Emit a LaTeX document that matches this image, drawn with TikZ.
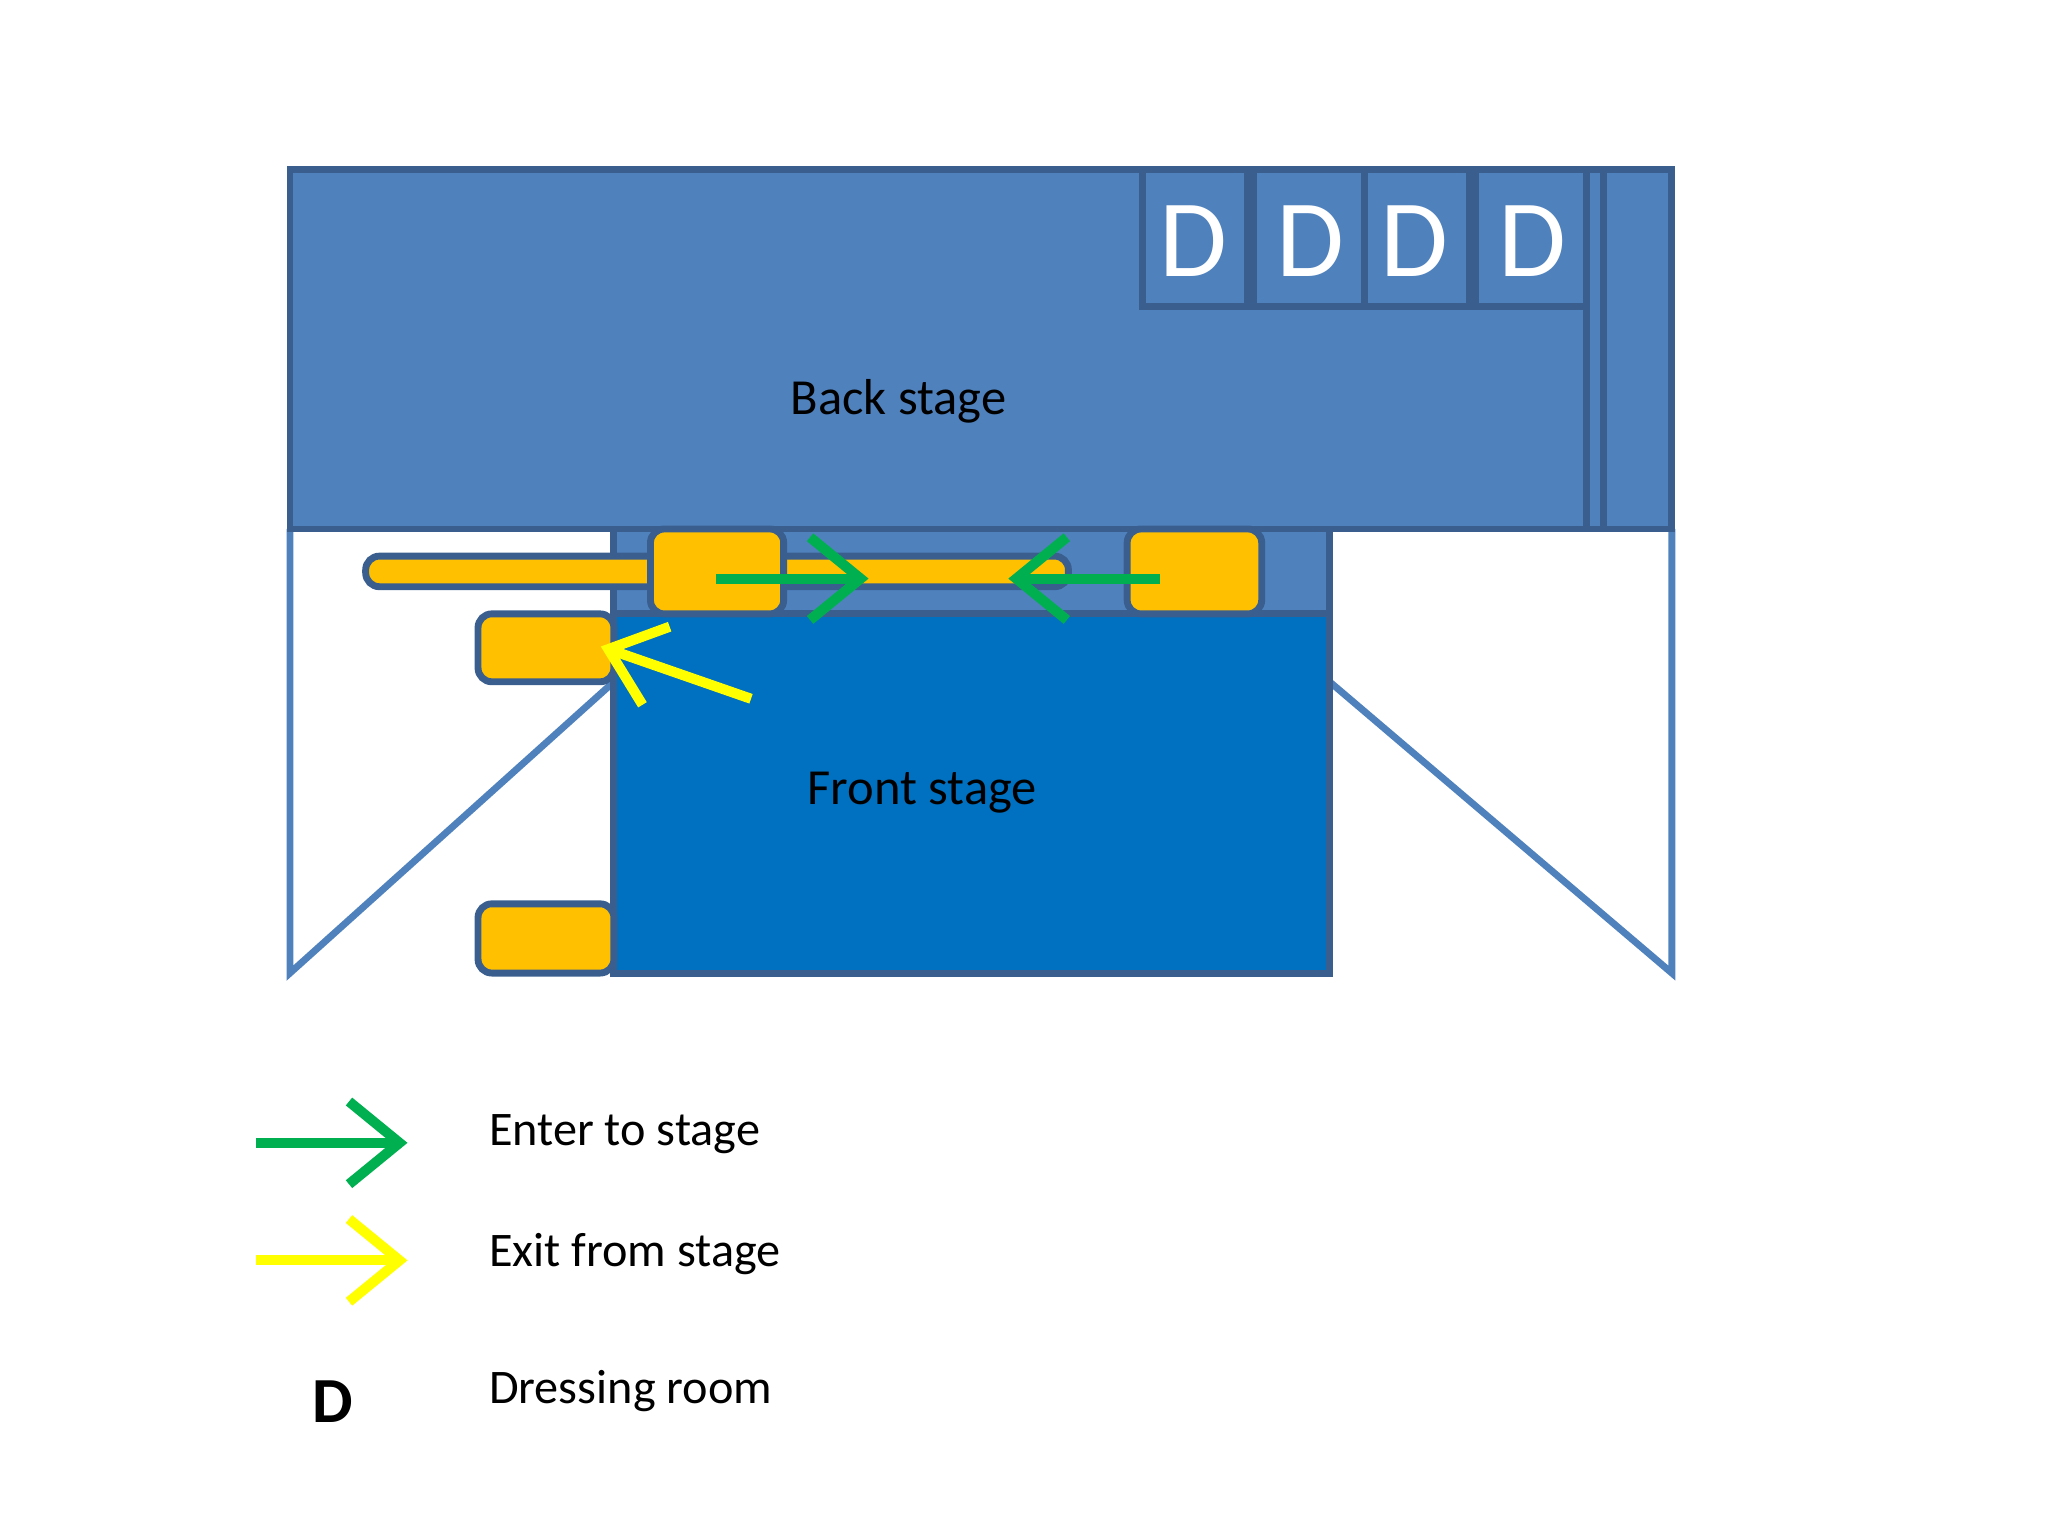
\documentclass[tikz,border=0pt]{standalone}
\usepackage{fontspec}
\setmainfont{Carlito}
\usetikzlibrary{arrows.meta}
\definecolor{bs}{HTML}{4F81BD}
\definecolor{bd}{HTML}{3A5F8F}
\definecolor{fs}{HTML}{0070C0}
\definecolor{org}{HTML}{FFC000}
\definecolor{grn}{HTML}{00B050}
\definecolor{yel}{HTML}{FFFF00}
\tikzset{
 room/.style={draw=bd,line width=1.5pt},
 orbox/.style={draw=bd,fill=org,line width=1.5pt,rounded corners=3pt},
 wing/.style={draw=bs,line width=1.5pt},
 arr/.style={line width=2.2pt,-{Straight Barb[length=11pt,width=18pt,line width=2.2pt]}},
 dlab/.style={text=white,font=\fontsize{24}{24}\selectfont},
 lbl/.style={font=\fontsize{10.5}{12}\selectfont,anchor=west}
}
\begin{document}
\begin{tikzpicture}[x=0.01cm,y=-0.01cm]
\useasboundingbox (0,0) rectangle (1568,1176);
% wings
\draw[wing] (222,405) -- (222,745) -- (470,522);
\draw[wing] (1280,405) -- (1280,745) -- (1018,522);
% back stage
\draw[room,fill=bs] (222,130) rectangle (1280,405);
\node (back) at (688,307) {\fontsize{11}{13}\selectfont Back stage};
\draw[room] (875,130) rectangle (955,235);
\draw[room] (960,130) rectangle (1045,235);
\draw[room] (1045,130) rectangle (1125,235);
\draw[room] (1130,130) rectangle (1215,235);
\draw[room] (1215,130) -- (1215,405);
\draw[room] (1228,130) -- (1228,405);
\node[dlab] (d1) at (914,185) {D};
\node[dlab] (d2) at (1003,185) {D};
\node[dlab] (d3) at (1083,185) {D};
\node[dlab] (d4) at (1173,185) {D};
% corridor and front stage
\draw[room,fill=bs] (470,405) rectangle (1018,470);
\draw[room,fill=fs] (470,470) rectangle (1018,745);
\node (front) at (706,607) {\fontsize{11}{13}\selectfont Front stage};
% exits
\node[orbox,minimum width=102\pgflinewidth] (o1) at (549,437.5) {};
\draw[orbox] (498,405) rectangle (600,470);
\draw[orbox] (863,405) rectangle (966,470);
\draw[orbox] (366,470) rectangle (470,522);
\draw[orbox] (366,692) rectangle (470,745);
\coordinate (g1a) at (548,443); \coordinate (g1b) at (665,443);
\coordinate (g2a) at (888,443); \coordinate (g2b) at (772,443);
\coordinate (ya) at (575,535); \coordinate (yb) at (460,495);
\draw[arr,grn] (g1a) -- (g1b);
\draw[arr,grn] (g2a) -- (g2b);
\draw[arr,yel] (ya) -- (yb);
% legend
\coordinate (l1a) at (196,875); \coordinate (l1b) at (312,875);
\coordinate (l2a) at (196,965); \coordinate (l2b) at (312,965);
\draw[arr,grn] (l1a) -- (l1b);
\draw[arr,yel] (l2a) -- (l2b);
\node (ld) at (255,1073) {\fontsize{14}{14}\selectfont\bfseries D};
\node[lbl] (t1) at (362,868) {Enter to stage};
\node[lbl] (t2) at (362,960) {Exit from stage};
\node[lbl] (t3) at (362,1065) {Dressing room};
\end{tikzpicture}
\end{document}
